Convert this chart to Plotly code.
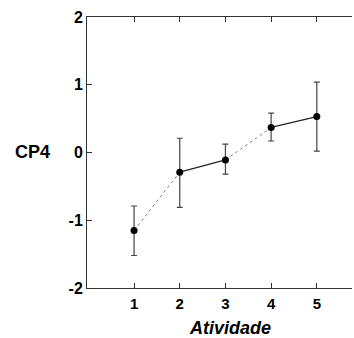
import plotly.graph_objects as go

atividade = [1, 2, 3, 4, 5]
cp4 = [-1.15, -0.29, -0.11, 0.37, 0.53]
err_plus = [0.36, 0.50, 0.235, 0.21, 0.51]
err_minus = [0.37, 0.52, 0.21, 0.20, 0.51]

solid_idx = [[1, 2], [3, 4]]
dotted_idx = [[0, 1], [2, 3]]

fig = go.Figure()

for seg in dotted_idx:
    fig.add_trace(go.Scatter(
        x=[atividade[i] for i in seg], y=[cp4[i] for i in seg],
        mode="lines", line=dict(color="#888888", width=1, dash="dot"),
        hoverinfo="skip", showlegend=False))
for seg in solid_idx:
    fig.add_trace(go.Scatter(
        x=[atividade[i] for i in seg], y=[cp4[i] for i in seg],
        mode="lines", line=dict(color="#222222", width=1.2),
        hoverinfo="skip", showlegend=False))

fig.add_trace(go.Scatter(
    x=atividade, y=cp4, mode="markers",
    marker=dict(color="black", size=7),
    error_y=dict(type="data", symmetric=False, array=err_plus,
                 arrayminus=err_minus, color="#444444", thickness=1.2, width=3),
    showlegend=False))

FAM = "Liberation Sans, Arial, sans-serif"
xfont = dict(family=FAM, size=15, color="black", weight="bold")
yfont = dict(family=FAM, size=16, color="black", weight="bold")

fig.update_layout(
    width=354, height=338,
    margin=dict(l=87, r=2, t=17, b=50),
    plot_bgcolor="white", paper_bgcolor="white",
    xaxis=dict(range=[-0.03, 5.77], tickvals=atividade, ticktext=[str(v) for v in atividade],
               ticks="inside", ticklen=5, tickcolor="#333333", tickwidth=1,
               showline=True, linecolor="#333333", linewidth=1, mirror="ticks",
               showgrid=False, zeroline=False, tickfont=xfont, ticklabelstandoff=2),
    yaxis=dict(range=[-2, 2], tickvals=[-2, -1, 0, 1, 2], ticktext=["-2", "-1", "0", "1", "2"],
               ticks="inside", ticklen=5, tickcolor="#333333", tickwidth=1,
               showline=True, linecolor="#333333", linewidth=1, mirror=False,
               showgrid=False, zeroline=False, tickfont=yfont),
)

pw, ph = 354 - 87 - 2, 338 - 17 - 50
def px_to_paper(px, py):
    return (px - 87) / pw, (338 - 50 - py) / ph

cx, cy = px_to_paper(13, 152)
fig.add_annotation(text="CP4", x=cx, y=cy, xref="paper", yref="paper", showarrow=False,
                   xanchor="left", yanchor="middle",
                   font=dict(family=FAM, size=18, color="black", weight="bold"))
ax, ay = px_to_paper(230, 328)
fig.add_annotation(text="<b><i>Atividade</i></b>", x=ax, y=ay, xref="paper", yref="paper",
                   showarrow=False, xanchor="center", yanchor="middle",
                   font=dict(family=FAM, size=18, color="black"))

fig.write_html("out.html")
